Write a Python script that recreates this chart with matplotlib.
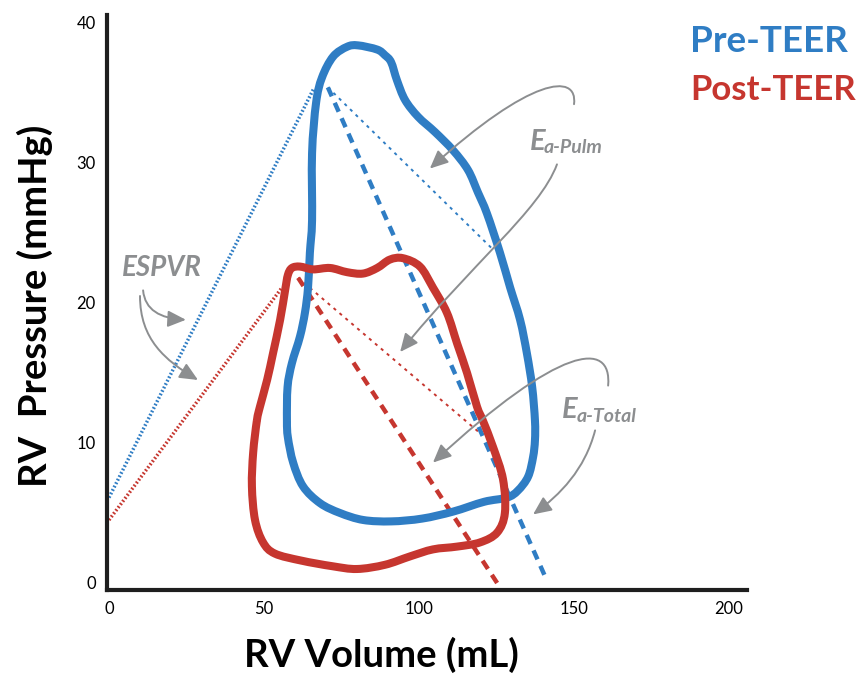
import matplotlib

matplotlib.use("Agg")

import matplotlib.pyplot as plt
import numpy as np
from matplotlib.patches import FancyArrowPatch, PathPatch
from matplotlib.path import Path

BLUE = "#2f7dc4"
RED = "#c6362f"
GRAY = "#8c8e90"

# RV pressure-volume loops (volume mL, pressure mmHg)
pre_volume = [57.4, 57.6, 59.0, 61.6, 63.2, 64.2, 64.8, 65.5, 65.5, 66.8, 68.7, 72.3,
              76.8, 80.3, 86.5, 89.0, 91.0, 92.9, 95.5, 99.7, 105.2, 111.0,
              115.8, 119.0, 121.9, 126.1, 129.4, 132.6, 134.8, 136.5, 137.4, 137.4,
              136.8, 135.2, 131.9, 128.4, 121.0, 111.0, 101.0, 91.0, 82.0, 74.5,
              68.1, 62.6, 59.4, 57.7]
pre_pressure = [11.6, 14.0, 15.7, 17.6, 19.3, 21.1, 23.6, 25.9, 30.7, 34.3, 36.1, 37.6,
                38.3, 38.4, 38.1, 37.7, 37.2, 35.9, 34.5, 33.3, 32.2, 30.9,
                29.5, 27.9, 26.4, 23.6, 21.1, 18.8, 16.4, 14.0, 11.6, 10.2,
                9.0, 7.6, 6.6, 6.1, 5.8, 5.1, 4.6, 4.4, 4.5, 5.0,
                5.7, 6.9, 8.6, 10.4]
post_volume = [47.7, 48.7, 51.0, 52.9, 55.2, 56.8, 57.7, 59.0, 61.6, 65.8, 71.3, 76.8,
               81.9, 86.5, 90.6, 94.8, 100.3, 104.5, 109.0, 112.3, 115.5, 118.7,
               120.6, 123.9, 127.1, 127.7, 125.2, 119.7, 112.3, 104.5, 97.1, 89.0,
               80.0, 72.0, 62.0, 53.5, 49.7, 47.1, 46.1, 46.5]
post_pressure = [11.6, 12.6, 14.5, 16.4, 18.8, 20.9, 22.0, 22.5, 22.6, 22.4, 22.5, 22.2,
                 22.1, 22.5, 23.1, 23.2, 22.6, 21.1, 19.3, 17.1, 15.0, 12.6,
                 11.6, 9.7, 7.4, 5.0, 3.6, 2.9, 2.6, 2.4, 1.9, 1.3,
                 1.0, 1.2, 1.6, 2.1, 2.9, 4.5, 6.9, 9.3]

# ESPVR and arterial elastance lines (end points)
pre_espvr_volume = [0, 66.0]
pre_espvr_pressure = [6.1, 35.3]
post_espvr_volume = [0, 55.8]
post_espvr_pressure = [4.5, 21.1]
pre_ea_total_volume = [70.6, 141.0]
pre_ea_total_pressure = [35.4, 0.3]
post_ea_total_volume = [61.0, 125.2]
post_ea_total_pressure = [21.8, 0.0]
pre_ea_pulm_volume = [70.6, 123.5]
pre_ea_pulm_pressure = [35.4, 23.9]
post_ea_pulm_volume = [61.0, 119.7]
post_ea_pulm_pressure = [21.8, 10.7]

x_ticks = [0, 50, 100, 150, 200]
y_ticks = [0, 10, 20, 30, 40]

# curved annotation arrows: start, two control points, tip
arrow_paths = [
    [(150.0, 34.2), (151.3, 36.5), (135.8, 36.1), (103.5, 29.6)],
    [(144.5, 29.9), (139.0, 26.6), (116.5, 22.7), (93.9, 16.5)],
    [(161.0, 14.1), (162.3, 17.4), (145.5, 17.0), (104.5, 8.6)],
    [(156.8, 10.9), (153.5, 8.1), (145.5, 6.3), (136.8, 4.9)],
    [(11.0, 20.9), (11.6, 19.5), (16.5, 18.9), (24.8, 18.8)],
    [(10.0, 20.5), (10.0, 17.4), (18.1, 15.9), (28.7, 14.5)],
]


def closed_curve(xs, ys):
    pts = np.column_stack([xs, ys])
    n = len(pts)
    verts = [pts[0]]
    codes = [Path.MOVETO]
    for i in range(n):
        p0, p1, p2, p3 = pts[i - 1], pts[i], pts[(i + 1) % n], pts[(i + 2) % n]
        verts += [p1 + (p2 - p0) / 6, p2 - (p3 - p1) / 6, p2]
        codes += [Path.CURVE4] * 3
    return Path(verts, codes)


plt.rcParams["font.family"] = ["Lato", "DejaVu Sans"]

fig = plt.figure(figsize=(8.67, 6.78), dpi=100, facecolor="white")
ax = fig.add_axes((0.1234, 0.1298, 0.7382, 0.8481))
ax.set_xlim(-0.65, 205.8)
ax.set_ylim(-0.5, 40.57)

# ESPVR (dotted)
ax.plot(pre_espvr_volume, pre_espvr_pressure, color=BLUE, lw=2.5,
        linestyle=(0, (0.5, 0.6)), solid_capstyle="butt", zorder=2)
ax.plot(post_espvr_volume, post_espvr_pressure, color=RED, lw=2.5,
        linestyle=(0, (0.5, 0.6)), solid_capstyle="butt", zorder=2)
# Ea-Pulm (thin dotted)
ax.plot(pre_ea_pulm_volume, pre_ea_pulm_pressure, color=BLUE, lw=1.4,
        linestyle=(0, (1.6, 2.4)), zorder=2)
ax.plot(post_ea_pulm_volume, post_ea_pulm_pressure, color=RED, lw=1.4,
        linestyle=(0, (1.6, 2.4)), zorder=2)
# Ea-Total (thick dashed)
ax.plot(pre_ea_total_volume, pre_ea_total_pressure, color=BLUE, lw=3.2,
        linestyle=(0, (2.2, 1.6)), zorder=2)
ax.plot(post_ea_total_volume, post_ea_total_pressure, color=RED, lw=3.2,
        linestyle=(0, (2.2, 1.6)), zorder=2)

ax.add_patch(PathPatch(closed_curve(pre_volume, pre_pressure), fill=False,
                       edgecolor=BLUE, lw=5.8, joinstyle="round", zorder=3))
ax.add_patch(PathPatch(closed_curve(post_volume, post_pressure), fill=False,
                       edgecolor=RED, lw=5.8, joinstyle="round", zorder=4))

for pts in arrow_paths:
    path = Path(pts, [Path.MOVETO, Path.CURVE4, Path.CURVE4, Path.CURVE4])
    ax.add_patch(FancyArrowPatch(path=path, arrowstyle="-|>,head_length=0.55,head_width=0.25",
                                 mutation_scale=20, color=GRAY, lw=1.4, zorder=5))

# annotation labels
ax.text(4.2, 21.9, "ESPVR", color=GRAY, fontsize=20, fontweight="bold",
        fontstyle="italic", ha="left", va="baseline", zorder=6)
for x, y, sub, off in [(135.8, 30.9, "a-Pulm", (10, -2.2)),
                       (146.1, 11.8, "a-Total", (10.8, -2.9))]:
    ax.text(x, y, "E", color=GRAY, fontsize=21, fontweight="bold",
            fontstyle="italic", ha="left", va="baseline", zorder=6)
    ax.annotate(sub, xy=(x, y), xytext=off, textcoords="offset points",
                color=GRAY, fontsize=14, fontstyle="italic", fontweight="bold",
                ha="left", va="baseline", zorder=6)

ax.set_xticks(x_ticks)
ax.set_yticks(y_ticks)
ax.tick_params(length=0, pad=8, labelsize=12)
for side in ("top", "right"):
    ax.spines[side].set_visible(False)
for side in ("left", "bottom"):
    ax.spines[side].set_linewidth(3)
    ax.spines[side].set_color("#1e1e1e")

fig.text(381 / 867, 1 - 667 / 678, "RV Volume (mL)", fontsize=27.5,
         fontweight="bold", ha="center", va="baseline")
fig.text(35 / 867, 1 - 306 / 678, "RV  Pressure (mmHg)", fontsize=27.5,
         fontweight="bold", rotation=90, ha="center", va="center")

fig.text(690 / 867, 1 - 52 / 678, "Pre-TEER", color=BLUE, fontsize=26.5,
         fontweight="bold", ha="left", va="baseline")
fig.text(690 / 867, 1 - 100 / 678, "Post-TEER", color=RED, fontsize=25,
         fontweight="bold", ha="left", va="baseline")

fig.savefig("out.png", dpi=100, facecolor="white")
